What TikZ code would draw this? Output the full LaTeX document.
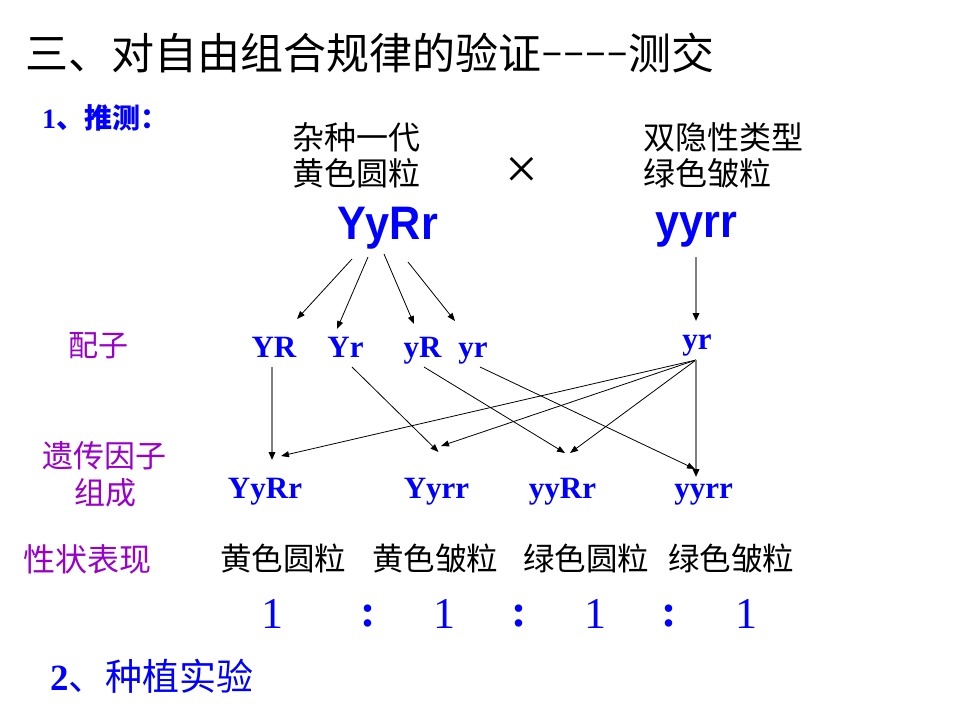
\documentclass[tikz,border=0pt]{standalone}
\usepackage{fontspec}
\usetikzlibrary{arrows.meta,calc}
\newfontfamily\cjk{Noto Sans CJK SC}
\newfontfamily\tnr{Liberation Serif}
\newfontfamily\ari{Liberation Sans}
\definecolor{pblue}{RGB}{0,0,255}
\definecolor{ppurple}{RGB}{153,0,204}
\newcommand\fs[1]{\fontsize{#1}{#1}\selectfont}
\tikzset{
  cjkt/.style={inner sep=0pt, anchor=base west},
  lab/.style={cjkt, text=ppurple, font=\cjk\fs{31}},
  ph/.style={cjkt, font=\cjk\fs{31.5}},
  big/.style={inner sep=0pt, anchor=base, text=pblue, font=\ari\bfseries\fs{47}},
  gam/.style={inner sep=0pt, anchor=base, text=pblue, font=\tnr\bfseries\fs{31}},
  rat/.style={inner sep=0pt, anchor=base, text=pblue, font=\tnr\fs{44}},
  col/.style={inner sep=0pt, anchor=base, text=pblue, font=\tnr\bfseries\fs{46}},
  arr/.style={-{Triangle[length=8pt,width=6pt]}, line width=0.8pt, draw=black},
  garr/.style={-{Triangle[length=8pt,width=6.5pt,color=black]}, line width=1.8pt, draw=gray},
}
\begin{document}
\begin{tikzpicture}[x=1pt,y=-1pt]
\useasboundingbox (0,0) rectangle (960,720);
% title
\node[cjkt, font=\cjk\fs{43}] (title) at (25,69.3) {三、对自由组合规律的验证\raisebox{6.6pt}{\tnr\scalebox{1.52}[0.8]{-{}-{}-{}-}}测交};
\node[cjkt, text=pblue, font=\cjk\bfseries\fs{28}] (s1) at (42,128.6) {{\tnr\bfseries 1}、推测：};
% parents
\node[cjkt, font=\cjk\fs{32}] (f1a) at (292,149.2) {杂种一代};
\node[cjkt, font=\cjk\fs{32}] (f1b) at (292,185.2) {黄色圆粒};
\node[inner sep=0pt, font=\tnr\fs{58}] (cross) at (522,173) {×};
\node[cjkt, font=\cjk\fs{32}] (p2a) at (643,149.2) {双隐性类型};
\node[cjkt, font=\cjk\fs{32}] (p2b) at (643,185.2) {绿色皱粒};
\node[big] (F1) at (387.5,239) {\scalebox{0.92}[1]{YyRr}};
\node[big] (P2) at (696,237) {\scalebox{0.92}[1]{yyrr}};
% gametes
\node[lab, font=\cjk\fs{30}] (lpz) at (68,356.4) {配子};
\node[gam] (gYR) at (274,357) {YR};
\node[gam] (gYr) at (345.5,357) {Yr};
\node[gam] (gyR) at (422.5,357) {yR};
\node[gam] (gyr) at (473,357) {yr};
\node[gam] (myr) at (697,349) {yr};
% offspring
\node[lab] (lyc1) at (42,467.8) {遗传因子};
\node[lab] (lyc2) at (74,504.8) {组成};
\node[gam] (oYyRr) at (265,498) {YyRr};
\node[gam] (oYyrr) at (436.5,498) {Yyrr};
\node[gam] (oyyRr) at (562.5,498) {yyRr};
\node[gam] (oyyrr) at (703.5,498) {yyrr};
% phenotypes
\node[lab, font=\cjk\fs{32}] (lxz) at (23,571) {性状表现};
\node[ph] (ph1) at (220,570) {黄色圆粒};
\node[ph] (ph2) at (372,570) {黄色皱粒};
\node[ph] (ph3) at (523,570) {绿色圆粒};
\node[ph] (ph4) at (668,570) {绿色皱粒};
% ratio
\node[rat] (r1) at (272,628) {1};
\node[col] (c1) at (368,626) {:};
\node[rat] (r2) at (444,628) {1};
\node[col] (c2) at (519,626) {:};
\node[rat] (r3) at (595,628) {1};
\node[col] (c3) at (669,626) {:};
\node[rat] (r4) at (746,628) {1};
\node[cjkt, text=pblue, font=\cjk\fs{37}] (s2) at (50,690) {{\tnr\bfseries 2}、种植实验};
% arrows F1 -> gametes
\draw[arr] ($(F1.base)+(-35.5,20)$) -- ($(gYR.base)+(23,-38)$);
\draw[arr] ($(F1.base)+(-19.5,18)$) -- ($(gYr.base)+(-8.5,-28)$);
\draw[arr] ($(F1.base)+(-3.5,15)$) -- ($(gyR.base)+(-8.5,-33)$);
\draw[arr] ($(F1.base)+(20.5,23)$) -- ($(gyr.base)+(-18,-36)$);
\draw[garr] ($(P2.base)+(0,20)$) -- ($(myr.base)+(-1,-28)$);
% gametes -> offspring
\draw[garr] ($(gYR.base)+(-2,10)$) -- ($(oYyRr.base)+(7,-38)$);
\draw[arr] ($(gYr.base)+(6.5,10)$) -- ($(oYyrr.base)+(2,-46)$);
\draw[arr] ($(gyR.base)+(1.5,10)$) -- ($(oyyRr.base)+(2.5,-45)$);
\draw[arr] ($(gyr.base)+(7,10)$) -- ($(oyyrr.base)+(-8.5,-29)$);
\draw[arr] ($(myr.base)+(-1,11)$) -- ($(oYyRr.base)+(16,-42)$);
\draw[arr] ($(myr.base)+(-1,11)$) -- ($(oYyrr.base)+(4.5,-52)$);
\draw[arr] ($(myr.base)+(-1,11)$) -- ($(oyyRr.base)+(7.5,-45)$);
\draw[garr] ($(myr.base)+(-1,11)$) -- ($(oyyrr.base)+(-7.5,-21)$);
\end{tikzpicture}
\end{document}
